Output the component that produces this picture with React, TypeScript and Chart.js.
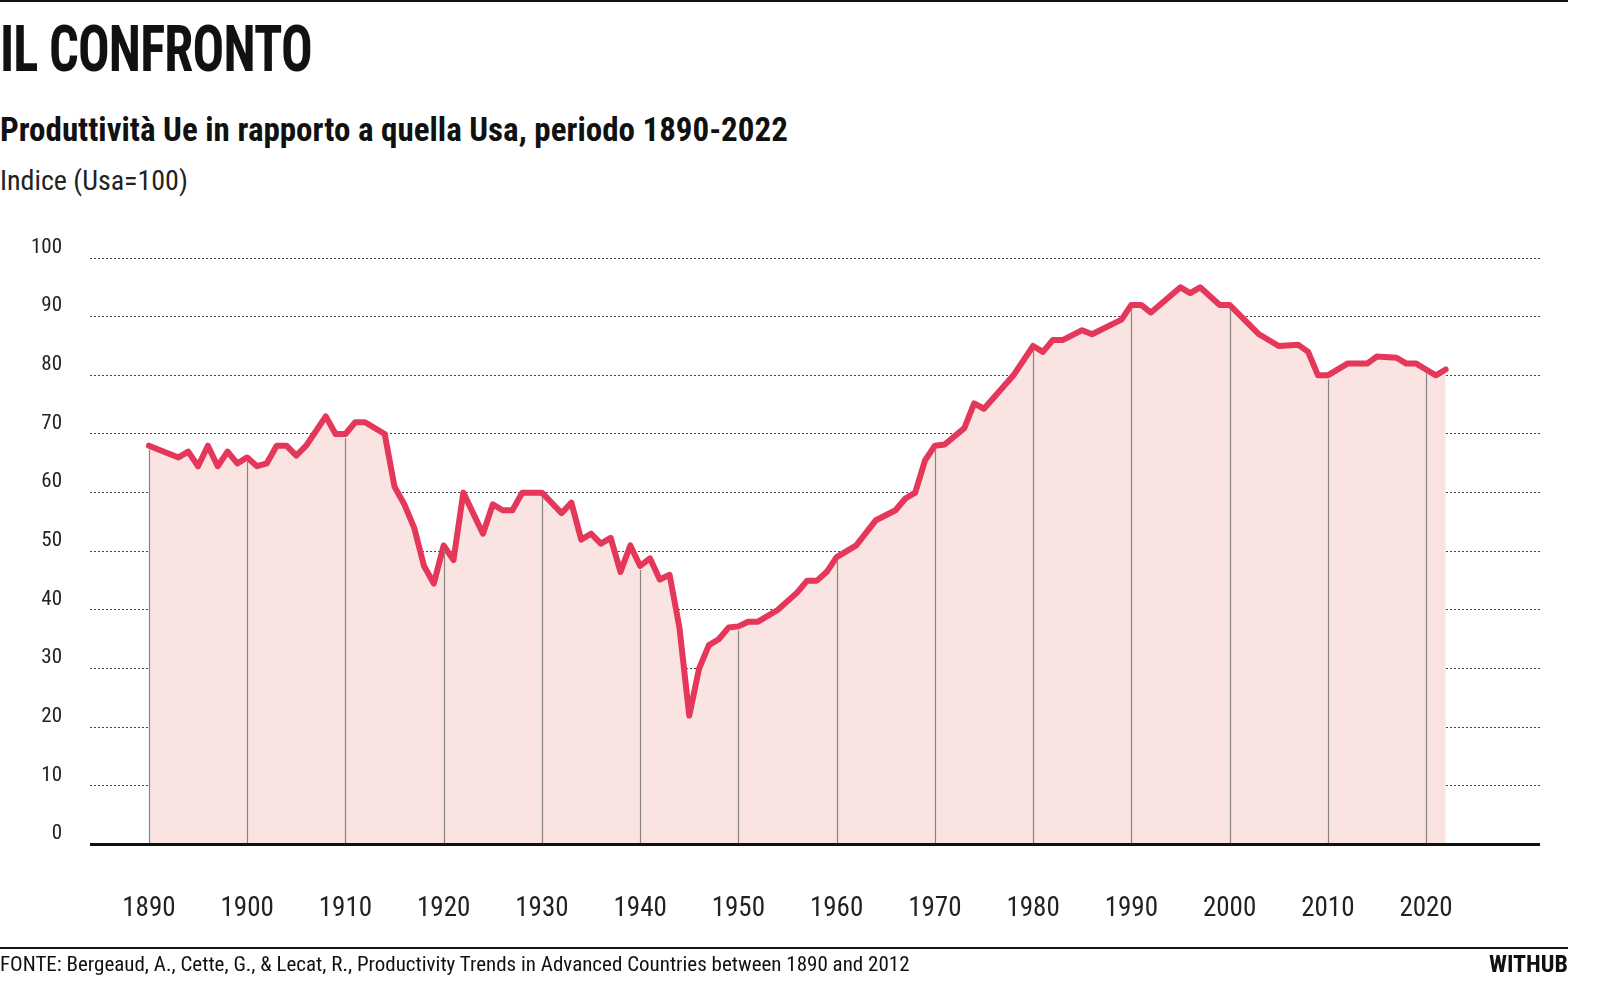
import React, { useEffect, useRef } from "react";
import { Chart, registerables } from "chart.js";
Chart.register(...registerables);

const years = [1890,1893,1894,1895,1896,1897,1898,1899,1900,1901,1902,1903,1904,1905,1906,1908,1909,1910,1911,1912,1914,1915,1916,1917,1918,1919,1920,1921,1922,1924,1925,1926,1927,1928,1930,1932,1933,1934,1935,1936,1937,1938,1939,1940,1941,1942,1943,1944,1945,1946,1947,1948,1949,1950,1951,1952,1954,1956,1957,1958,1959,1960,1962,1964,1966,1967,1968,1969,1970,1971,1973,1974,1975,1978,1980,1981,1982,1983,1985,1986,1989,1990,1991,1992,1995,1996,1997,1999,2000,2003,2005,2007,2008,2009,2010,2012,2014,2015,2017,2018,2019,2020,2021,2022];
const values = [68,66,67,64.5,68,64.5,67,65,66,64.5,65,68,68,66.3,68,73,70,70,72,72,70,61,58,54,47.5,44.5,51,48.5,60,53,58,57,57,60,60,56.5,58.3,52,53,51.3,52.3,46.5,51,47.5,48.8,45.2,46,37,22,30,34,35,37,37.2,38,38,40,43,45,45,46.5,49,51,55.3,57,59,60,65.5,68,68.2,71,75.2,74.3,80,85,84,86,86,87.7,87,89.5,92,92,90.7,95,94,95,92,92,87,85,85.2,84,80,80,82,82,83.2,83,82,82,81,80,81];
const decades = [1890,1900,1910,1920,1930,1940,1950,1960,1970,1980,1990,2000,2010,2020];
const yTicks = [0,10,20,30,40,50,60,70,80,90,100];

const narrow = "'Liberation Sans Narrow', 'Roboto Condensed', 'Liberation Sans', sans-serif";

export default function App() {
  const ref = useRef<HTMLCanvasElement>(null);
  useEffect(() => {
    const dropPlugin = {
      id: "drops",
      afterDatasetsDraw(chart: any) {
        const { ctx, scales } = chart;
        const x = scales.x, y = scales.y;
        ctx.save();
        ctx.strokeStyle = "#8a8480";
        ctx.lineWidth = 1.2;
        decades.forEach((d) => {
          const i = years.indexOf(d);
          if (i < 0) return;
          const px = Math.round(x.getPixelForValue(d)) + 0.5;
          ctx.beginPath();
          ctx.moveTo(px, y.getPixelForValue(0));
          ctx.lineTo(px, y.getPixelForValue(values[i]) + 4);
          ctx.stroke();
        });
        ctx.strokeStyle = "#111";
        ctx.lineWidth = 3;
        const by = y.getPixelForValue(0);
        ctx.beginPath();
        ctx.moveTo(chart.chartArea.left, by);
        ctx.lineTo(chart.chartArea.right, by);
        ctx.stroke();
        ctx.restore();
      },
    };
    const chart = new Chart(ref.current!, {
      type: "line",
      data: {
        datasets: [{
          data: years.map((yr, i) => ({ x: yr, y: values[i] })),
          borderColor: "#e5375a",
          borderWidth: 6,
          backgroundColor: "rgba(250,228,225,1)",
          fill: "origin",
          pointRadius: 0,
          tension: 0,
          borderJoinStyle: "round",
          borderCapStyle: "round",
        }],
      },
      plugins: [dropPlugin],
      options: {
        animation: false,
        responsive: false,
        layout: { padding: { top: 258, right: 28, bottom: 0, left: 0 } },
        plugins: { legend: { display: false }, tooltip: { enabled: false } },
        scales: {
          x: {
            type: "linear",
            min: 1884,
            max: 2031.6,
            afterBuildTicks: (s: any) => { s.ticks = decades.map((v) => ({ value: v })); },
            ticks: { color: "#222", font: { family: narrow, size: 27 }, padding: 40, callback: (v: any) => String(v), maxRotation: 0, autoSkip: false },
            grid: { display: false },
            border: { display: false },
          },
          y: {
            min: 0,
            max: 100,
            afterBuildTicks: (s: any) => { s.ticks = yTicks.map((v) => ({ value: v })); },
            afterFit: (s: any) => { s.width = 90; },
            ticks: { color: "#222", font: { family: narrow, size: 21 }, padding: 28, align: "end" },
            grid: {
              color: (c: any) => (c.tick && c.tick.value === 0 ? "rgba(0,0,0,0)" : "#444"),
              lineWidth: 1,
              drawTicks: false,
            },
            border: { display: false, dash: [2, 2] },
          },
        },
      },
    } as any);
    return () => chart.destroy();
  }, []);

  return (
    <div style={{ position: "absolute", left: 0, top: 0, width: 1606, height: 1004, background: "#fff", overflow: "hidden", fontFamily: narrow }}>
      <div style={{ position: "absolute", left: 0, top: 0, width: 1568, borderTop: "2px solid #111" }} />
      <div style={{ position: "absolute", left: 0, top: 12, fontSize: 64, fontWeight: 700, color: "#111", letterSpacing: -1, transform: "scaleX(0.82)", transformOrigin: "left" }}>IL CONFRONTO</div>
      <div style={{ position: "absolute", left: 0, top: 110, fontSize: 33, fontWeight: 700, color: "#111" }}>Produttività Ue in rapporto a quella Usa, periodo 1890-2022</div>
      <div style={{ position: "absolute", left: 0, top: 164, fontSize: 28, color: "#222" }}>Indice (Usa=100)</div>
      <canvas ref={ref} width={1568} height={965} style={{ position: "absolute", left: 0, top: 0, width: 1568, height: 965 }} />
      <div style={{ position: "absolute", left: 0, top: 947, width: 1568, borderTop: "2px solid #111" }} />
      <div style={{ position: "absolute", left: 0, top: 952, fontSize: 21, color: "#111" }}>FONTE: Bergeaud, A., Cette, G., &amp; Lecat, R., Productivity Trends in Advanced Countries between 1890 and 2012</div>
      <div style={{ position: "absolute", right: 38, top: 950, fontSize: 24, fontWeight: 700, color: "#111" }}>WITHUB</div>
    </div>
  );
}
